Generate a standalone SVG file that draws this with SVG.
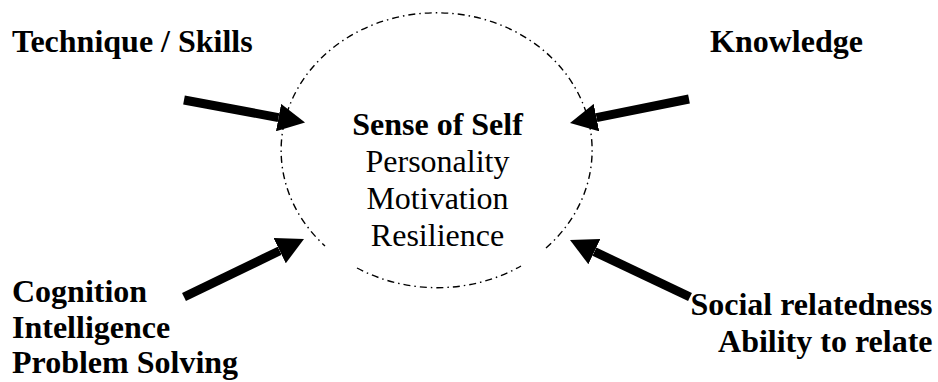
<svg xmlns="http://www.w3.org/2000/svg" width="938" height="382" viewBox="0 0 938 382">
<style>
text{font-family:'Liberation Serif','Times New Roman',Times,serif;font-size:32px;fill:#000}
.b{font-weight:bold}
.ring{fill:none;stroke:#000;stroke-width:1.4;stroke-dasharray:7 4 1.5 4}
.arr{stroke:#000;stroke-width:9;fill:none;marker-end:url(#head)}
</style>
<defs>
<marker id="head" viewBox="0 0 27 28" refX="0" refY="14" markerWidth="27" markerHeight="28" markerUnits="userSpaceOnUse" orient="auto">
<path d="M0,0 L27,14 L0,28 z" fill="#000"/>
</marker>
</defs>
<rect width="938" height="382" fill="#fff"/>
<g id="self">
<path class="ring" d="M546,248 A155.5,137.5 0 1 0 325,246"/>
<path class="ring" d="M357,268 A155.5,137.5 0 0 0 521,266"/>
<text class="b" x="437.5" y="135" text-anchor="middle" font-family="Liberation Serif">Sense of Self</text>
<text x="437.5" y="172" text-anchor="middle" font-family="Liberation Serif">Personality</text>
<text x="437.5" y="209" text-anchor="middle" font-family="Liberation Serif">Motivation</text>
<text x="437.5" y="246" text-anchor="middle" font-family="Liberation Serif">Resilience</text>
</g>
<g id="technique">
<text class="b" x="12" y="52" font-family="Liberation Serif">Technique / Skills</text>
</g>
<g id="knowledge">
<text class="b" x="710" y="52" font-family="Liberation Serif">Knowledge</text>
</g>
<g id="cognition">
<text class="b" x="12" y="302" font-family="Liberation Serif">Cognition</text>
<text class="b" x="12" y="338" font-family="Liberation Serif">Intelligence</text>
<text class="b" x="12" y="373" font-family="Liberation Serif">Problem Solving</text>
</g>
<g id="social">
<text class="b" x="932.5" y="315" text-anchor="end" font-family="Liberation Serif">Social relatedness</text>
<text class="b" x="932.5" y="352" text-anchor="end" font-family="Liberation Serif">Ability to relate</text>
</g>
<g id="connectors">
<line class="arr" x1="184" y1="100" x2="278.5" y2="117.6"/>
<line class="arr" x1="689" y1="99" x2="596.5" y2="117.6"/>
<line class="arr" x1="184" y1="297" x2="279.7" y2="250.7"/>
<line class="arr" x1="690" y1="297" x2="594.4" y2="251.6"/>
</g>
</svg>
